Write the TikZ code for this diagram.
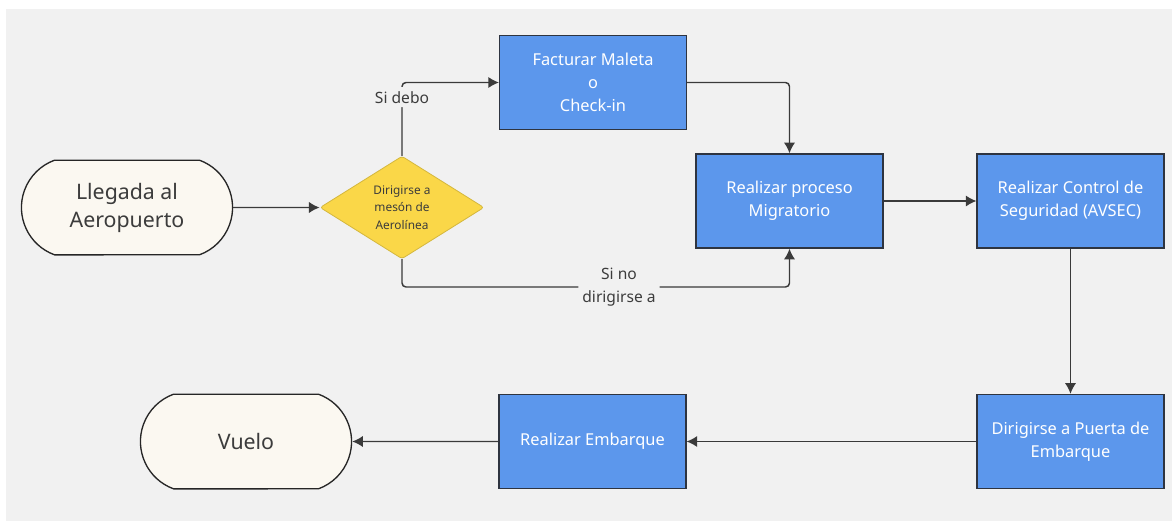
\documentclass[tikz,border=0pt]{standalone}
\usepackage{fontspec}
\setmainfont{Noto Sans}
\usepackage{tikz}
\usetikzlibrary{arrows.meta}
\usetikzlibrary{shapes.geometric,shapes.misc}

\definecolor{fondo}{HTML}{F1F1F1}
\definecolor{azul}{HTML}{5C97EC}
\definecolor{borde}{HTML}{2E3440}
\definecolor{amarillo}{HTML}{FAD748}
\definecolor{crema}{HTML}{FBF8F1}
\definecolor{linea}{HTML}{3A3A3A}
\definecolor{texto}{HTML}{3C3C3C}

\begin{document}
\begin{tikzpicture}[x=0.75pt, y=-0.75pt,
		caja/.style={draw=borde, line width=1.1pt, fill=azul, text=white, align=center, minimum width=140pt, minimum height=70.5pt, inner sep=2pt, font=\fontsize{12.3}{17.5}\selectfont},
		extremo/.style={rounded rectangle, rounded rectangle arc length=140, draw=black!85, line width=1pt, fill=crema, text=texto, align=center, minimum width=165pt, minimum height=71pt, font=\fontsize{16}{21}\selectfont},
		decision/.style={diamond, shape aspect=1.6, fill=amarillo, draw=amarillo!85!black, line width=0.6pt, rounded corners=2pt, minimum width=123pt, minimum height=77pt, inner sep=0pt, align=center, text=texto, font=\fontsize{8.9}{13}\selectfont},
		flecha/.style={-{Latex[length=8pt,width=8.5pt]}, draw=linea, line width=1.1pt, rounded corners=3pt},
		etiqueta/.style={fill=fondo, text=texto, align=center, inner sep=3pt, font=\fontsize{11.7}{17}\selectfont}]
		\fill[white] (0,0) rectangle (1172,521);
		\fill[fondo] (6,9) rectangle (1172,521);
		
		\node[extremo] (llegada) at (127,207.5) {Llegada al\\Aeropuerto};
		\node[decision] (meson) at (402,207.5) {Dirigirse a\\mesón de\\Aerolínea};
		\node[caja] (facturar) at (593,82.5) {Facturar Maleta\\o\\Check-in};
		\node[caja] (migratorio) at (789.5,201) {Realizar proceso\\Migratorio};
		\node[caja] (avsec) at (1070.5,201) {Realizar Control de\\Seguridad (AVSEC)};
		\node[caja] (puerta) at (1070.5,441.5) {Dirigirse a Puerta de\\Embarque};
		\node[caja] (embarque) at (592.5,441.5) {Realizar Embarque};
		\node[extremo] (vuelo) at (246,441.5) {Vuelo};
		\coordinate (bajada) at (402,287);
		
		\draw[flecha] (llegada) -- (meson);
		\draw[flecha] (meson.north) |- node[etiqueta, pos=0.4]{Si debo} (facturar.west);
		\draw[flecha] (facturar.east) -| (migratorio.north);
		\draw[flecha] (meson.south) -- (bajada) -| node[etiqueta, pos=0.28]{Si no\\dirigirse a} (migratorio.south);
		\draw[flecha] (migratorio) -- (avsec);
		\draw[flecha] (avsec) -- (puerta);
		\draw[flecha] (puerta) -- (embarque);
		\draw[flecha] (embarque) -- (vuelo);
		
		\end{tikzpicture}
\end{document}
